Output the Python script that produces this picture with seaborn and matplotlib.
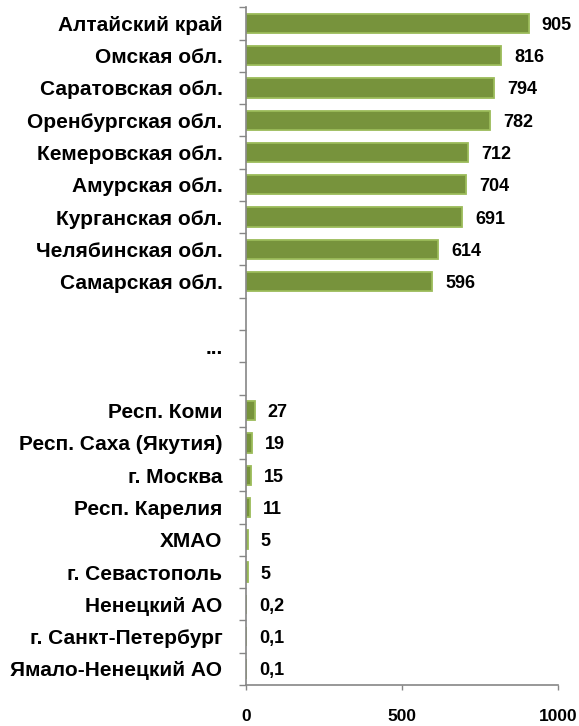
import matplotlib
matplotlib.use("Agg")
import matplotlib.pyplot as plt
import seaborn as sns
import numpy as np
import pandas as pd

regions = ["Алтайский край", "Омская обл.", "Саратовская обл.", "Оренбургская обл.",
           "Кемеровская обл.", "Амурская обл.", "Курганская обл.", "Челябинская обл.",
           "Самарская обл.", " ", "...", "  ",
           "Респ. Коми", "Респ. Саха (Якутия)", "г. Москва", "Респ. Карелия", "ХМАО",
           "г. Севастополь", "Ненецкий АО", "г. Санкт-Петербург", "Ямало-Ненецкий АО"]
values = [905, 816, 794, 782, 712, 704, 691, 614, 596, np.nan, np.nan, np.nan,
          27, 19, 15, 11, 5, 5, 0.2, 0.1, 0.1]
value_labels = ["905", "816", "794", "782", "712", "704", "691", "614", "596", "", "", "",
                "27", "19", "15", "11", "5", "5", "0,2", "0,1", "0,1"]
x_ticks = [0, 500, 1000]

sns.set_style("white")
plt.rcParams['font.family'] = ['Liberation Sans', 'DejaVu Sans']
plt.rcParams['text.color'] = 'black'
plt.rcParams['xtick.color'] = 'black'
plt.rcParams['ytick.color'] = 'black'

df = pd.DataFrame({"region": regions, "value": values})

fig = plt.figure(figsize=(5.79, 7.26), dpi=100)
ax = fig.add_axes([0.425, 0.0565, 0.539, 0.9335])

sns.barplot(data=df, y="region", x="value", orient="h", color="#77933C",
            saturation=1, width=0.6, edgecolor="#9BBB59", linewidth=1.3,
            order=regions, ax=ax)

n = len(regions)
ax.set_ylim(n - 0.5, -0.5)
ax.set_xlim(0, 1000)
ax.set_xticks(x_ticks)
ax.set_xticklabels([str(t) for t in x_ticks], fontsize=12.5, fontweight="bold", color="black")
ax.set_yticks(range(n))
ax.set_yticklabels(regions, fontsize=15, fontweight="bold", color="black")
ax.set_yticks(np.arange(-0.5, n, 1.0), minor=True)
ax.tick_params(axis="y", which="major", length=0, pad=17)
ax.tick_params(axis="y", which="minor", length=5, width=1, color="#868686", left=True)
ax.tick_params(axis="x", which="major", length=3.6, width=1, color="#868686", bottom=True, pad=14)
ax.set_xlabel("")
ax.set_ylabel("")

for s in ["top", "right"]:
    ax.spines[s].set_visible(False)
for s in ["left", "bottom"]:
    ax.spines[s].set_color("#868686")
    ax.spines[s].set_linewidth(1.2)

for i, (v, lab) in enumerate(zip(values, value_labels)):
    if lab:
        ax.annotate(lab, xy=(v, i), xytext=(9.5, 0), textcoords="offset points",
                    va="center_baseline", ha="left", fontsize=13, fontweight="bold",
                    color="black")

fig.savefig("out.png", dpi=100)
